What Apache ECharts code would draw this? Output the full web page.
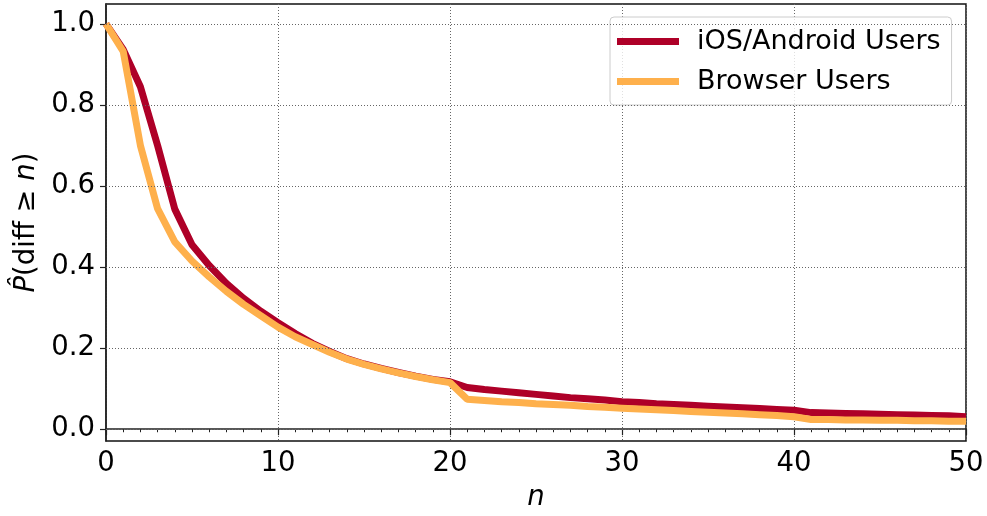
<!DOCTYPE html>
<html>
<head>
<meta charset="utf-8">
<script src="https://cdn.jsdelivr.net/npm/echarts@6/dist/echarts.min.js"></script>
<style>html,body{margin:0;padding:0;background:#fff}#c{width:987px;height:516px}</style>
</head>
<body>
<div id="c"></div>
<script>
const nValues = [0,1,2,3,4,5,6,7,8,9,10,11,12,13,14,15,16,17,18,19,20,21,22,23,24,25,26,27,28,29,30,31,32,33,34,35,36,37,38,39,40,41,42,43,44,45,46,47,48,49,50];
const mobileUsers = [1.0,0.937,0.845,0.70,0.543,0.455,0.404,0.360,0.323,0.291,0.263,0.236,0.212,0.192,0.174,0.161,0.150,0.140,0.131,0.123,0.117,
  0.103,0.098,0.094,0.090,0.086,0.082,0.078,0.075,0.072,0.068,0.066,0.063,0.061,0.059,0.057,0.055,0.053,0.051,0.049,0.047,
  0.041,0.040,0.039,0.038,0.037,0.036,0.035,0.034,0.033,0.031];
const browserUsers = [1.0,0.932,0.70,0.544,0.462,0.415,0.376,0.340,0.308,0.280,0.252,0.228,0.209,0.190,0.173,0.160,0.149,0.139,0.130,0.122,0.115,
  0.074,0.071,0.068,0.066,0.063,0.061,0.059,0.056,0.054,0.052,0.050,0.048,0.046,0.044,0.042,0.040,0.038,0.036,0.034,0.031,
  0.024,0.024,0.023,0.023,0.022,0.022,0.021,0.021,0.020,0.020];
const yTickValues = [0.0,0.2,0.4,0.6,0.8,1.0];
const seriesNames = ['iOS/Android Users','Browser Users'];

const FONT = 'DejaVu Sans';
const FS = 27.5;
const chart = echarts.init(document.getElementById('c'), null, {renderer:'canvas'});
const pair = arr => nValues.map((n,i)=>[n,arr[i]]);
chart.setOption({
  animation:false,
  backgroundColor:'#fff',
  textStyle:{fontFamily:FONT},
  grid:{left:106,right:21,top:4,bottom:72,show:true,borderColor:'#111',borderWidth:1.5,backgroundColor:'transparent'},
  legend:{
    data:seriesNames,
    left:610, top:17, orient:'vertical',
    padding:[10,11,9,7],
    itemGap:11,
    itemWidth:62, itemHeight:7,
    icon:'rect',
    backgroundColor:'rgba(255,255,255,0.8)',
    borderColor:'#cccccc', borderWidth:1, borderRadius:4,
    textStyle:{fontFamily:FONT,fontSize:27,color:'#000',lineHeight:29,padding:[0,0,0,13]}
  },
  xAxis:{
    type:'value',min:0,max:50,interval:10,
    name:'n',nameLocation:'middle',nameGap:43,
    nameTextStyle:{fontFamily:FONT,fontSize:FS,fontStyle:'italic',color:'#000'},
    axisLine:{show:true,lineStyle:{color:'#222',width:1.5}},
    axisTick:{show:true,length:6,lineStyle:{color:'#222',width:1.2}},
    minorTick:{show:true,splitNumber:10,length:3,lineStyle:{color:'#222',width:1}},
    axisLabel:{fontFamily:FONT,fontSize:FS,color:'#000',margin:9},
    splitLine:{show:true,lineStyle:{type:[1,2],color:'#666',width:1}}
  },
  yAxis:{
    type:'value',min:-0.029,max:1.049,
    name:'{i|P\u0302}(diff \u2265 {i|n})',nameLocation:'middle',nameGap:63,nameRotate:90,
    nameTextStyle:{fontFamily:FONT,fontSize:FS,color:'#000',rich:{i:{fontFamily:FONT,fontSize:FS,fontStyle:'italic',color:'#000'}}},
    axisLine:{show:true,lineStyle:{color:'#222',width:1.5}},
    axisTick:{show:true,length:6,customValues:yTickValues,lineStyle:{color:'#222',width:1.2}},
    axisLabel:{fontFamily:FONT,fontSize:FS,color:'#000',margin:11,customValues:yTickValues,formatter:v=>v.toFixed(1)},
    splitLine:{show:false}
  },
  series:[
    {type:'line',name:'_grid',data:[],z:0,silent:true,
     markLine:{silent:true,symbol:'none',label:{show:false},animation:false,
       lineStyle:{type:[1,2],color:'#666',width:1},
       data:yTickValues.map(v=>({yAxis:v}))}},
    {type:'line',name:seriesNames[0],data:pair(mobileUsers),showSymbol:false,symbol:'none',z:3,
     lineStyle:{color:'#ae0028',width:7},itemStyle:{color:'#ae0028'}},
    {type:'line',name:seriesNames[1],data:pair(browserUsers),showSymbol:false,symbol:'none',z:4,
     lineStyle:{color:'#feb04c',width:7},itemStyle:{color:'#feb04c'}}
  ]
});
</script>
</body>
</html>
